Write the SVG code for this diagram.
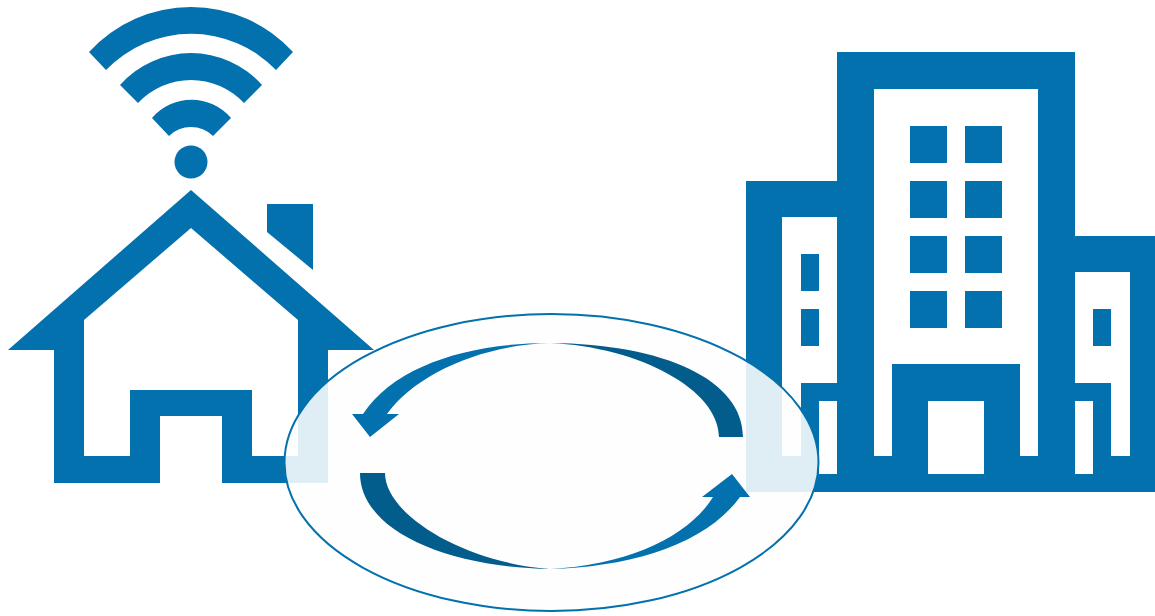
<svg xmlns="http://www.w3.org/2000/svg" width="1155" height="616" viewBox="0 0 1155 616">
<style>
.b{fill:#0271ad}
.d{fill:#025c8c}
.w{fill:#fff}
.wifi{fill:#0271ad}
</style>
<rect class="w" width="1155" height="616"/>
<g id="wifi">
<path class="wifi" d="M89 52A138 138 0 0 1 293 52L276 70A118 118 0 0 0 106 70Z"/>
<path class="wifi" d="M120 85A95 95 0 0 1 262 85L244 103A72.6 72.6 0 0 0 138 103Z"/>
<path class="wifi" d="M152 118A52 52 0 0 1 231 118L213 136A31.4 31.4 0 0 0 169 136Z"/>
<circle class="wifi" cx="191" cy="162" r="16.5"/>
</g>
<g id="house">
<path class="b" fill-rule="evenodd" d="M191 190L374 350H328V483H222V416H160V483H54V350H8ZM191 228L84 320V456H130V390H252V456H298V320Z"/>
<path class="b" d="M267 204H313V270L267 232Z"/>
</g>
<g id="building">
<path class="b" d="M746 181H837V52H1075V236H1155V492H746Z"/>
<path class="w" d="M874 89H1038V456H1020V364H892V456H874Z"/>
<path class="w" d="M928 401H984V474H928Z"/>
<path class="w" d="M782 217H837V383H801V456H782Z"/>
<path class="w" d="M819 401H837V474H819Z"/>
<path class="w" d="M1075 272H1130V456H1111V383H1075Z"/>
<path class="w" d="M1075 401H1093V474H1075Z"/>
<g class="b">
<rect x="910" y="126" width="37" height="37"/><rect x="965" y="126" width="37" height="37"/>
<rect x="910" y="181" width="37" height="37"/><rect x="965" y="181" width="37" height="37"/>
<rect x="910" y="236" width="37" height="37"/><rect x="965" y="236" width="37" height="37"/>
<rect x="910" y="291" width="37" height="37"/><rect x="965" y="291" width="37" height="37"/>
<rect x="801" y="254" width="18" height="37"/><rect x="801" y="309" width="18" height="37"/>
<rect x="1093" y="309" width="18" height="37"/>
</g>
</g>
<g id="cycle">
<ellipse cx="551.5" cy="462.5" rx="267" ry="148.5" fill="#fefefe" fill-opacity="0.88" stroke="#0271ad" stroke-width="2"/>
<path class="d" d="M550 343C665 344 743 380 743 437H719C719 390 640 347 550 343Z"/>
<path class="d" d="M550 569C445 567 360 530 360 473H385C385 515 465 563 550 569Z"/>
<path class="b" d="M550 343C470 343 395 365 363 414H352L370 437L399 414H387C415 375 480 345 550 343Z"/>
<path class="b" d="M550 569C630 567 705 545 740 497H750L732 474L702 497H713C690 535 630 565 550 569Z"/>
</g>
</svg>
